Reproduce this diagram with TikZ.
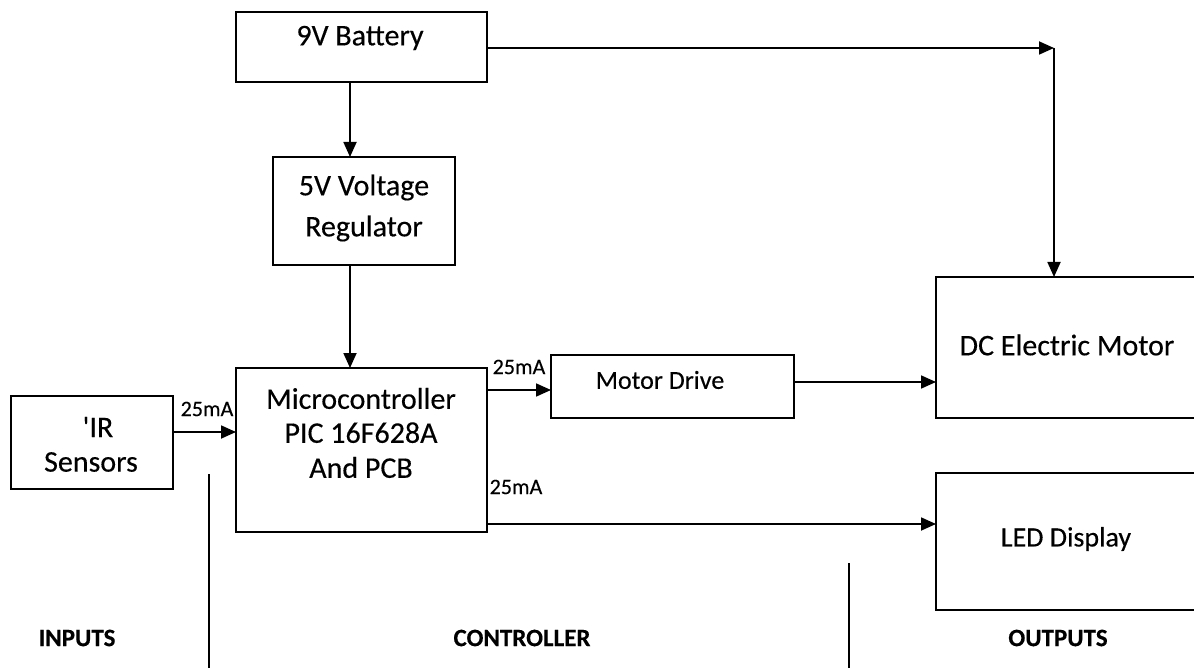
\documentclass[tikz,border=0pt]{standalone}
\usepackage{fontspec}
\setmainfont{Carlito}[FakeBold=0.3]
\newfontfamily\plainfont{Carlito}[FakeBold=0.3]
\usetikzlibrary{arrows.meta}
\begin{document}
\begin{tikzpicture}[x=1pt,y=-1pt,
  blk/.style={draw,line width=1.8pt,inner sep=0pt},
  txt/.style={font=\fontsize{30}{35}\selectfont,align=center,inner sep=0pt},
  lbl/.style={font=\fontsize{22}{26}\selectfont,inner sep=0pt},
  sect/.style={font=\bfseries\fontsize{25}{30}\selectfont,inner sep=0pt},
  conn/.style={line width=1.8pt,-{Triangle[length=15pt,width=13pt]}},
  divl/.style={line width=1.3pt}]
\useasboundingbox (0,0) rectangle (1194,668);
\fill[white] (0,0) rectangle (1194,668);
\begin{scope}
\clip (0,0) rectangle (1194,668);
% boxes
\draw[blk] (236,12) rectangle (487,82);
\node[txt] (battery) at (360,38) {9V Battery};
\draw[blk] (273,157) rectangle (455,265);
\node[txt] (reg) at (364,208) {5V Voltage\\[6pt]Regulator};
\draw[blk] (236,368) rectangle (487,532);
\node[txt] (mcu) at (361,433) {Microcontroller\\[-1pt]PIC 16F628A\\[0pt]And PCB};
\draw[blk] (11,396) rectangle (173,489);
\node[txt] (pir1) at (98,427) {{\plainfont'}IR};
\node[txt] (pir2) at (91,462) {Sensors};
\draw[blk] (551,355) rectangle (794,418);
\node[txt,font=\fontsize{26}{30}\selectfont] (drive) at (660,380) {Motor Drive};
\draw[blk] (936,277) rectangle (1200,418);
\node[txt] (dcm) at (1067,345) {DC Electric Motor};
\draw[blk] (936,473) rectangle (1200,610);
\node[txt,font=\fontsize{28}{32}\selectfont] (led) at (1066,539) {LED Display};
% anchors on box edges
\coordinate (batR) at (487,48);
\coordinate (corner) at (1054,48);
\coordinate (dcmT) at (1054,277);
\coordinate (batB) at (350,82);
\coordinate (regT) at (350,157);
\coordinate (regB) at (350,265);
\coordinate (mcuT) at (350,368);
\coordinate (pirR) at (173,432);
\coordinate (mcuL) at (236,432);
\coordinate (mcuR1) at (487,390);
\coordinate (drvL) at (551,390);
\coordinate (drvR) at (794,382);
\coordinate (dcmL) at (936,382);
\coordinate (mcuR2) at (487,524);
\coordinate (ledL) at (936,524);
% connectors
\draw[conn] (batR) -- (corner);
\draw[conn] (corner) -- (dcmT);
\draw[conn] (batB) -- (regT);
\draw[conn] (regB) -- (mcuT);
\draw[conn] (pirR) -- (mcuL);
\draw[conn] (mcuR1) -- (drvL);
\draw[conn] (drvR) -- (dcmL);
\draw[conn] (mcuR2) -- (ledL);
% labels
\node[lbl] (l1) at (207,409) {25mA};
\node[lbl] (l2) at (519,367) {25mA};
\node[lbl] (l3) at (516,487) {25mA};
% dividers
\coordinate (d1t) at (209,474);
\coordinate (d1b) at (209,668);
\coordinate (d2t) at (849,563);
\coordinate (d2b) at (849,668);
\draw[divl] (d1t) -- (d1b);
\draw[divl] (d2t) -- (d2b);
\node[sect] (inputs) at (77,638) {INPUTS};
\node[sect] (ctrl) at (522,638) {CONTROLLER};
\node[sect] (outputs) at (1058,638) {OUTPUTS};
\end{scope}
\end{tikzpicture}
\end{document}
